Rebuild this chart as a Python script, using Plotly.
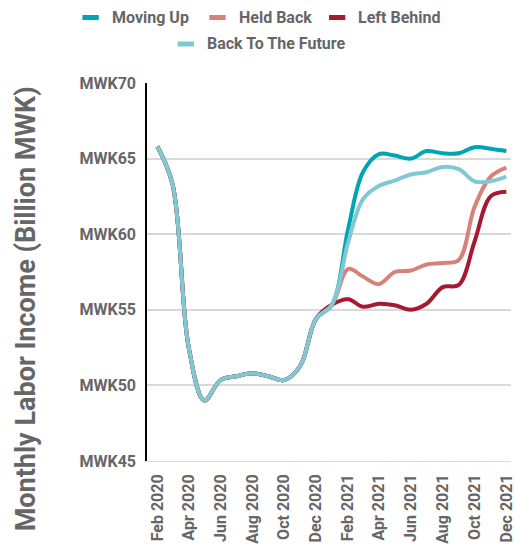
import plotly.graph_objects as go

months = ["2020-02-01", "2020-03-01", "2020-04-01", "2020-05-01", "2020-06-01", "2020-07-01",
          "2020-08-01", "2020-09-01", "2020-10-01", "2020-11-01", "2020-12-01", "2021-01-01",
          "2021-02-01", "2021-03-01", "2021-04-01", "2021-05-01", "2021-06-01", "2021-07-01",
          "2021-08-01", "2021-09-01", "2021-10-01", "2021-11-01", "2021-12-01"]

shared = [65.8, 63.3, 52.5, 49.0, 50.35, 50.6, 50.8, 50.6, 50.35, 51.3, 54.4, 55.35]

moving_up = shared + [60.4, 64.1, 65.3, 65.2, 65.0, 65.5, 65.35, 65.35, 65.75, 65.65, 65.5]
held_back = shared + [57.7, 57.2, 56.7, 57.5, 57.6, 58.0, 58.1, 58.3, 61.8, 63.8, 64.4]
left_behind = shared + [55.7, 55.2, 55.4, 55.3, 55.0, 55.4, 56.5, 56.65, 59.5, 62.5, 62.8]
back_to_future = shared + [59.5, 62.3, 63.2, 63.55, 63.95, 64.1, 64.45, 64.3, 63.5, 63.5, 63.8]

series_names = ["Moving Up", "Held Back", "Left Behind", "Back To The Future"]
series_values = [moving_up, held_back, left_behind, back_to_future]
colors = ["#00A5B5", "#D8807A", "#A51931", "#80C9D2"]

W, H = 515, 544
ML, MR, MT, MB = 147, 0, 83, 83
PW, PH = W - ML - MR, H - MT - MB


def px_x(x):
    return (x - ML) / PW


def px_y(y):
    return (H - MB - y) / PH


fig = go.Figure()
for name, vals, col in zip(series_names, series_values, colors):
    fig.add_trace(go.Scatter(x=months, y=vals, name=name, mode="lines",
                             line=dict(color=col, width=4, shape="spline", smoothing=1.0),
                             showlegend=False))

font_family = "Roboto"
grey = "#666666"

# custom legend
legend_items = [
    (0, 81.7, 17.5), (1, 210, 17.5), (2, 331, 17.5), (3, 178, 44),
]
shapes = []
annotations = []
for idx, x0, y0 in legend_items:
    shapes.append(dict(type="line", xref="paper", yref="paper",
                       x0=px_x(x0), x1=px_x(x0 + 16.5), y0=px_y(y0), y1=px_y(y0),
                       line=dict(color=colors[idx], width=5)))
    annotations.append(dict(xref="paper", yref="paper", x=px_x(x0 + 27.5), y=px_y(y0),
                            xanchor="left", yanchor="middle", showarrow=False,
                            text="<b>%s</b>" % series_names[idx],
                            font=dict(family=font_family, size=16, color=grey)))

annotations.append(dict(xref="paper", yref="paper", x=px_x(25), y=px_y(309),
                        xanchor="center", yanchor="middle", showarrow=False, textangle=-90,
                        text="<b>Monthly Labor Income (Billion MWK)</b>",
                        font=dict(family=font_family, size=27, color=grey)))

fig.update_layout(
    width=W, height=H,
    margin=dict(l=ML, r=MR, t=MT, b=MB),
    paper_bgcolor="white", plot_bgcolor="white",
    shapes=shapes, annotations=annotations,
    font=dict(family=font_family, color=grey),
)
fig.update_xaxes(
    type="date", range=["2020-01-12", "2021-12-10"],
    tick0="2020-02-01", dtick="M2", tickformat="<b>%b %Y</b>", tickangle=-90,
    tickfont=dict(family=font_family, size=16, color=grey),
    showgrid=False, showline=True, linecolor="#d9d9d9", linewidth=1,
    ticks="", ticklabelstandoff=6, ticklabeloverflow="allow",
)
fig.update_yaxes(
    range=[45, 70], dtick=5, tick0=45, tickprefix="<b>MWK", ticksuffix="</b>",
    tickfont=dict(family=font_family, size=16, color=grey),
    showgrid=True, gridcolor="#d9d9d9", gridwidth=1.5,
    showline=True, linecolor="black", linewidth=1.5, zeroline=False,
    ticks="", ticklabelstandoff=6,
)

fig.write_html("out.html", config={"displayModeBar": False},
               post_script="document.body.style.margin='0';document.body.style.overflow='hidden';")
